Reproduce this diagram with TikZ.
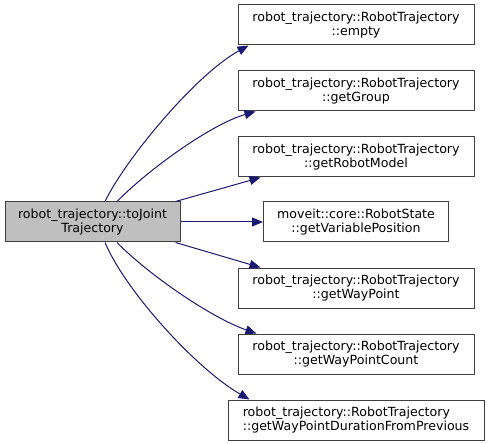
\documentclass[tikz,border=0pt]{standalone}
\usepackage{fontspec}
\setmainfont{DejaVu Sans}
\usetikzlibrary{arrows.meta}

\begin{document}
\begin{tikzpicture}[x=1pt,y=-1pt]
\tikzset{
  fnnode/.style={rectangle,draw=black!75,line width=1pt,minimum height=40pt,inner sep=1pt,align=center,font=\fontsize{12.6}{14.5}\selectfont},
  rootnode/.style={fnnode,fill=black!25},
  calledge/.style={draw=midnightblue,line width=1pt,-{Stealth[length=11pt,width=9pt,inset=0pt]}}
}
\definecolor{midnightblue}{HTML}{191970}
\useasboundingbox (0,0) rectangle (491,444);
\node[rootnode,minimum width=175pt] (n_main) at (92.5,222) {robot\_trajectory::toJoint\\Trajectory};
\node[fnnode,minimum width=236pt] (n_empty) at (356,25) {robot\_trajectory::RobotTrajectory\\::empty};
\node[fnnode,minimum width=236pt] (n_group) at (356,91) {robot\_trajectory::RobotTrajectory\\::getGroup};
\node[fnnode,minimum width=236pt] (n_model) at (356,157) {robot\_trajectory::RobotTrajectory\\::getRobotModel};
\node[fnnode,minimum width=185pt] (n_varpos) at (356,222) {moveit::core::RobotState\\::getVariablePosition};
\node[fnnode,minimum width=236pt] (n_wp) at (356,288) {robot\_trajectory::RobotTrajectory\\::getWayPoint};
\node[fnnode,minimum width=236pt] (n_wpcount) at (356,354) {robot\_trajectory::RobotTrajectory\\::getWayPointCount};
\node[fnnode,minimum width=256pt,align=left] (n_wpdur) at (356,420) {robot\_trajectory::RobotTrajectory\\::getWayPointDurationFromPrevious};
\draw[calledge] ([xshift=12.5pt]n_main.north) .. controls (125,160) and (195,75) .. ([xshift=11pt]n_empty.south west);
\draw[calledge] ([xshift=24.5pt]n_main.north) .. controls (150,168) and (212,124) .. ([xshift=18pt]n_group.south west);
\draw[calledge] ([xshift=-5pt]n_main.north east) -- ([xshift=23pt]n_model.south west);
\draw[calledge] (n_main.east) -- (n_varpos.west);
\draw[calledge] ([xshift=-5pt]n_main.south east) -- ([xshift=23pt]n_wp.north west);
\draw[calledge] ([xshift=24.5pt]n_main.south) .. controls (150,276) and (212,318) .. ([xshift=19pt]n_wpcount.north west);
\draw[calledge] ([xshift=12.5pt]n_main.south) .. controls (125,290) and (195,368) .. ([xshift=22pt]n_wpdur.north west);
\end{tikzpicture}
\end{document}
